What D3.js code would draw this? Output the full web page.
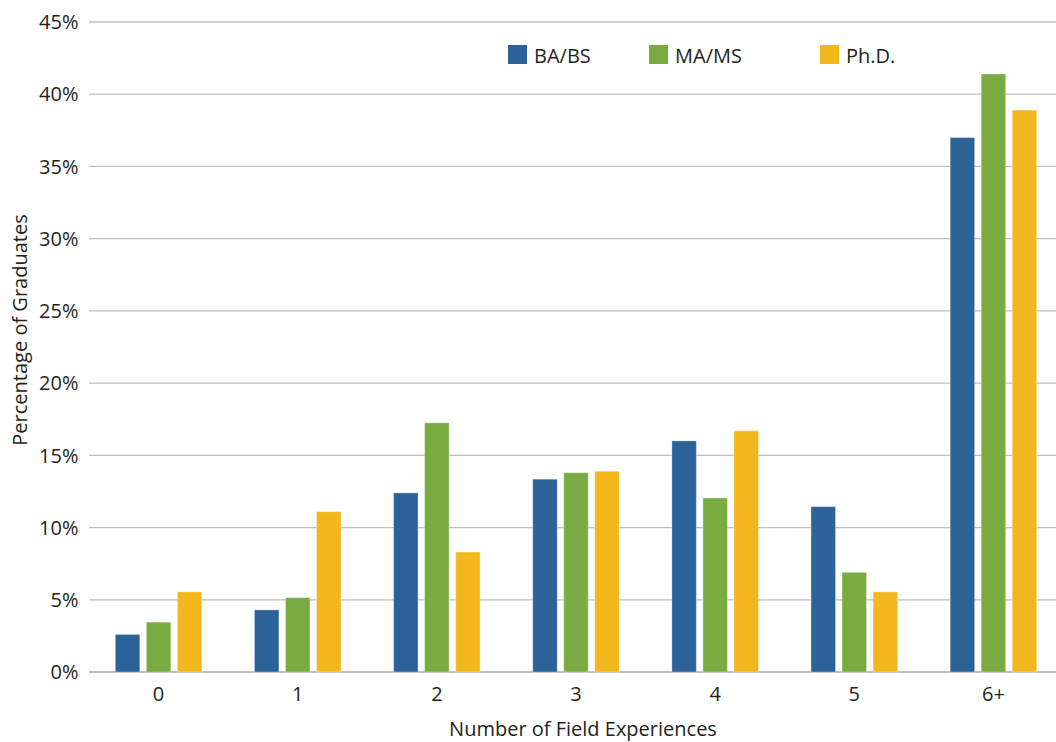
<!DOCTYPE html>
<html>
<head>
<meta charset="utf-8">
<script src="https://cdn.jsdelivr.net/npm/d3@7"></script>
<style>
  html, body { margin: 0; padding: 0; background: #fff; }
  svg { display: block; }
  text { font-family: "Open Sans", "Noto Sans", sans-serif; fill: #231F20; }
</style>
</head>
<body>
<svg id="chart" width="1056" height="742"></svg>
<script>
const categories = ["0", "1", "2", "3", "4", "5", "6+"];
const seriesNames = ["BA/BS", "MA/MS", "Ph.D."];
const baValues = [2.6, 4.3, 12.4, 13.35, 16.0, 11.45, 37.0];
const maValues = [3.45, 5.15, 17.25, 13.8, 12.05, 6.9, 41.4];
const phdValues = [5.55, 11.1, 8.3, 13.9, 16.7, 5.55, 38.9];
const yTicks = [0, 5, 10, 15, 20, 25, 30, 35, 40, 45];
const colors = ["#2B6399", "#7AAB41", "#F2B71C"];

const seriesValues = [baValues, maValues, phdValues];
const data = categories.map((c, i) => ({
  cat: c,
  vals: seriesNames.map((s, j) => ({ series: s, value: seriesValues[j][i], idx: j }))
}));

const svg = d3.select("#chart");
const plotLeft = 89, plotRight = 1063, plotTop = 22, plotBottom = 672;

const x0 = d3.scaleBand().domain(categories).range([plotLeft, plotRight]).paddingInner(0.378).paddingOuter(0.189);
const x1 = d3.scaleBand().domain(seriesNames).range([0, x0.bandwidth()]).paddingInner(0.21);
const y = d3.scaleLinear().domain([0, 45]).range([plotBottom, plotTop]);

// gridlines
svg.append("g").selectAll("line").data(yTicks).join("line")
  .attr("x1", plotLeft).attr("x2", 1056)
  .attr("y1", d => y(d)).attr("y2", d => y(d))
  .attr("stroke", "#BEBEBE").attr("stroke-width", d => d === 0 ? 1.8 : 1.3);

// y tick labels
svg.append("g").selectAll("text").data(yTicks).join("text")
  .attr("x", 78.5).attr("y", d => y(d)).attr("dy", "0.36em")
  .attr("text-anchor", "end").attr("font-size", 20)
  .text(d => d + "%");

// bars
const groups = svg.append("g").selectAll("g").data(data).join("g")
  .attr("transform", d => `translate(${x0(d.cat)},0)`);
groups.selectAll("rect").data(d => d.vals).join("rect")
  .attr("x", d => x1(d.series))
  .attr("width", x1.bandwidth())
  .attr("y", d => y(d.value))
  .attr("height", d => y(0) - y(d.value))
  .attr("fill", d => colors[d.idx])
  .attr("stroke", "#ffffff").attr("stroke-opacity", 0.35).attr("stroke-width", 1);

// x tick labels
svg.append("g").selectAll("text").data(categories).join("text")
  .attr("x", d => x0(d) + x0.bandwidth() / 2).attr("y", 701)
  .attr("text-anchor", "middle").attr("font-size", 20)
  .text(d => d);

// axis titles
svg.append("text").attr("x", 583).attr("y", 736)
  .attr("text-anchor", "middle").attr("font-size", 20)
  .text("Number of Field Experiences");
svg.append("text").attr("transform", "translate(27,330) rotate(-90)")
  .attr("text-anchor", "middle").attr("font-size", 20)
  .text("Percentage of Graduates");

// legend
const legendX = [508, 649, 820];
const legend = svg.append("g").selectAll("g").data(seriesNames).join("g")
  .attr("transform", (d, i) => `translate(${legendX[i]},45)`);
legend.append("rect").attr("width", 19).attr("height", 19)
  .attr("fill", (d, i) => colors[i]);
legend.append("text").attr("x", 26).attr("y", 17.5)
  .attr("font-size", 20).text(d => d);
</script>
</body>
</html>
